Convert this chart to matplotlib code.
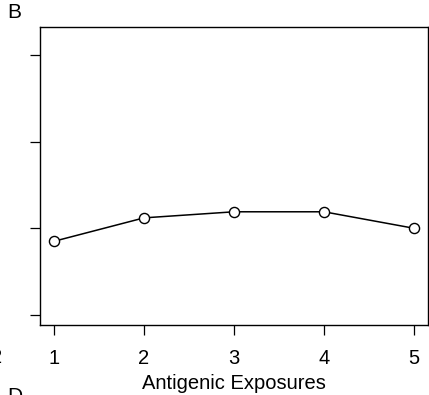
import matplotlib
matplotlib.use("Agg")
import matplotlib.pyplot as plt

plt.rcParams['font.family'] = ['Liberation Sans', 'DejaVu Sans']

# mean response per number of antigenic exposures
exposures = [1, 2, 3, 4, 5]
response = [0.85, 1.12, 1.19, 1.19, 1.00]
y_ticks = [0, 1, 2, 3]

W, H = 429, 395
fig = plt.figure(figsize=(W / 100, H / 100), dpi=100)
ax = fig.add_axes([40 / W, (H - 325) / H, 388 / W, 298 / H])

ax.plot(exposures, response, color='black', lw=1.1,
        marker='o', markersize=7.3, markerfacecolor='white',
        markeredgecolor='black', markeredgewidth=1.0)

ax.set_xlim(0.844, 5.156)
ax.set_ylim(-0.115, 3.32)
ax.set_xticks(exposures)
ax.set_yticks(y_ticks)
ax.set_yticklabels([])
ax.tick_params(direction='out', length=7.5, width=0.9, labelsize=14.5, pad=9.5)
for s in ax.spines.values():
    s.set_linewidth(1.0)

# x axis title placed by baseline
fig.text(234 / W, 1 - 389 / H, 'Antigenic Exposures', fontsize=14.5,
         ha='center', va='baseline')

# panel letters and neighbouring tick label
fig.text(7 / W, 1 - 3 / H, 'B', fontsize=15, ha='left', va='top')
fig.text(7 / W, 1 - 387 / H, 'D', fontsize=15, ha='left', va='top')
fig.text(-3 / W, 1 - 363 / H, '2', fontsize=14.5, ha='center', va='baseline')

fig.savefig('out.png', dpi=100)
